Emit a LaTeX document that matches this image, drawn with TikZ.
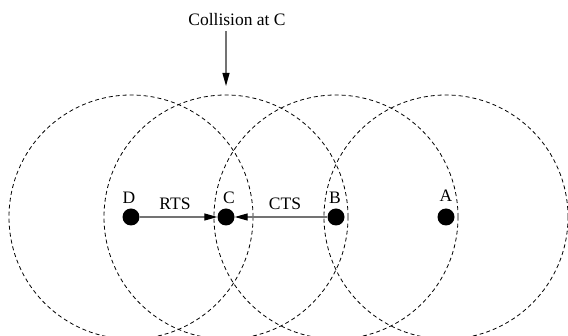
\documentclass[tikz,border=0pt]{standalone}
\usepackage{fontspec}
\setmainfont{Liberation Serif}
\usetikzlibrary{arrows.meta}
\begin{document}
\begin{tikzpicture}[x=1pt,y=-1pt,
  rangecircle/.style={draw=black,line width=0.8pt,dash pattern=on 4pt off 3pt},
  station/.style={circle,fill=black,minimum size=17pt,inner sep=0pt},
  msg/.style={draw=black!55,line width=1.2pt,-{Triangle[length=13pt,width=7pt,color=black]}},
  lbl/.style={font=\fontsize{17.5}{20}\selectfont,inner sep=0pt}]
\useasboundingbox (0,0) rectangle (568,336);
\clip (0,0) rectangle (568,336);
\node[station] (D) at (131,217) {};
\node[station] (C) at (226,217) {};
\node[station] (B) at (336,217) {};
\node[station] (A) at (446,217) {};
\foreach \n in {D,C,B,A} \draw[rangecircle] (\n) circle[radius=122pt];
\node[lbl] (Dl) at (129,198) {D};
\node[lbl] (Cl) at (229,198) {C};
\node[lbl] (Bl) at (335,198) {B};
\node[lbl] (Al) at (446,196) {A};
\node[lbl] (rts) at (175,204) {RTS};
\node[lbl] (cts) at (285,204) {CTS};
\draw[msg] (D) -- (C);
\draw[msg] (B) -- (C);
\node[lbl] (coll) at (237,20) {Collision at C};
\coordinate (hit) at (226,86);
\draw[msg,shorten <=5pt] (coll.south -| hit) -- (hit);
\end{tikzpicture}
\end{document}
